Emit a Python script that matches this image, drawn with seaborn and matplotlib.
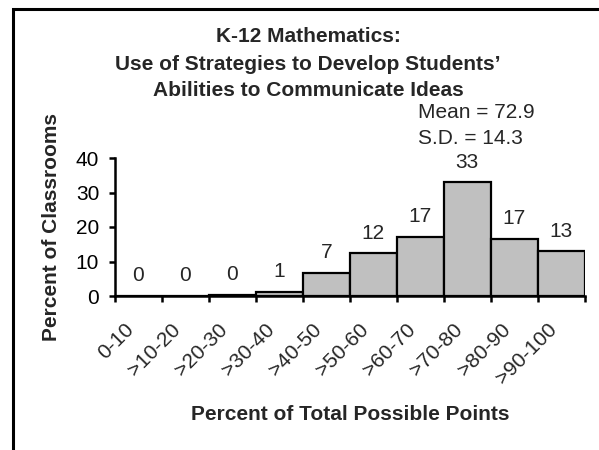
import matplotlib
matplotlib.use("Agg")
import matplotlib.pyplot as plt
import matplotlib.patches as mpatches
import matplotlib.transforms as mtransforms
import numpy as np
import pandas as pd
import seaborn as sns

# datos
categories = ["0-10", ">10-20", ">20-30", ">30-40", ">40-50",
              ">50-60", ">60-70", ">70-80", ">80-90", ">90-100"]
percents = [0.0, 0.0, 0.4, 1.2, 6.7, 12.4, 17.1, 33.0, 16.6, 13.0]
bar_labels = ["0", "0", "0", "1", "7", "12", "17", "33", "17", "13"]
y_ticks = [0, 10, 20, 30, 40]

sns.set_theme(style="ticks")
plt.rcParams["font.family"] = ["Liberation Sans", "DejaVu Sans"]

df = pd.DataFrame({"rango": categories, "pct": percents})

W, H = 599, 450
fig = plt.figure(figsize=(W / 100, H / 100), dpi=100)
fig.patch.set_facecolor("white")
ax = fig.add_axes([114.5 / W, 1 - 296 / H, (585 - 114.5) / W, (296 - 158) / H])

sns.barplot(data=df, x="rango", y="pct", color="#C0C0C0", width=1.0,
            saturation=1, edgecolor="black", linewidth=1.6, ax=ax)

ax.set_xlim(-0.5, len(categories) - 0.5)
ax.set_ylim(0, 40)
ax.set_yticks(y_ticks)
ax.set_yticklabels([str(t) for t in y_ticks], fontsize=15)

# ticks en los bordes de las clases, etiquetas en el centro
ax.set_xticks(np.arange(len(categories) + 1) - 0.5)
ax.set_xticklabels([])
ax.set_xticks(np.arange(len(categories)), minor=True)
ax.set_xticklabels(categories, minor=True, rotation=45, ha="right",
                   rotation_mode="anchor", fontsize=15)
ax.tick_params(axis="x", which="minor", length=0, pad=17)
ax.tick_params(axis="both", which="major", direction="out", length=4,
               width=1.8, color="black", labelcolor="black")
ax.tick_params(axis="y", pad=7)

# desplazar etiquetas rotadas hacia la izquierda
shift = mtransforms.ScaledTranslation(-0.14, 0, fig.dpi_scale_trans)
for lab in ax.get_xticklabels(minor=True):
    lab.set_transform(lab.get_transform() + shift)

for side in ["top", "right"]:
    ax.spines[side].set_visible(False)
for side in ["left", "bottom"]:
    ax.spines[side].set_linewidth(1.8)
    ax.spines[side].set_color("black")

for i, (v, lab) in enumerate(zip(percents, bar_labels)):
    ax.annotate(lab, (i, v), xytext=(0, 14.5), textcoords="offset points",
                ha="center", va="center", fontsize=15)

ax.set_xlabel("")
ax.set_ylabel("Percent of Classrooms", fontsize=15, fontweight="bold")
ax.yaxis.set_label_coords(-(114.5 - 61) / (585 - 114.5), 0.5)

fig.text(350 / W, 1 - 415 / H, "Percent of Total Possible Points",
         ha="center", va="center", fontsize=15, fontweight="bold")

titulo = ["K-12 Mathematics:",
          "Use of Strategies to Develop Students\u2019",
          "Abilities to Communicate Ideas"]
for k, linea in enumerate(titulo):
    fig.text(308 / W, 1 - (37 + 27 * k) / H, linea, ha="center", va="center",
             fontsize=15, fontweight="bold")

fig.text(418 / W, 1 - 113 / H, "Mean = 72.9", ha="left", va="center",
         fontsize=15)
fig.text(418 / W, 1 - 139 / H, "S.D. = 14.3", ha="left", va="center",
         fontsize=15)

# marco del gráfico
fig.patches.append(mpatches.Rectangle((13 / W, -0.05), 1.1, 1.05 - 9.5 / H,
                                      transform=fig.transFigure, fill=False,
                                      edgecolor="black", linewidth=2.2))

fig.savefig("out.png", dpi=100)
plt.close(fig)
